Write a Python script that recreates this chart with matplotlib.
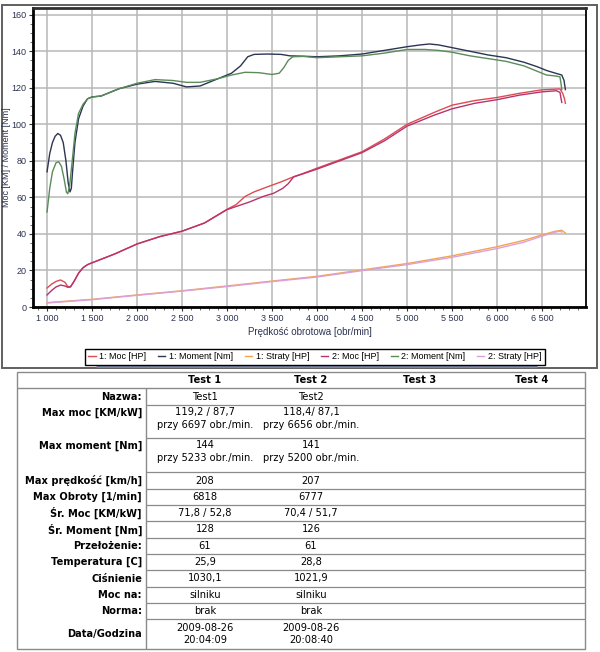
import numpy as np
import matplotlib
matplotlib.use("Agg")
from matplotlib import pyplot as plt
from matplotlib.patches import Rectangle
from matplotlib.ticker import MultipleLocator

# --- chart data (read from the dyno print) ---
rpm_m1 = [1000, 1030, 1060, 1090, 1120, 1150, 1180, 1210, 1235, 1255, 1270, 1285, 1310, 1350, 1400, 1450,
          1500, 1600, 1800, 2000, 2200, 2400, 2550, 2700, 2900, 3050, 3150, 3230, 3300, 3450, 3600, 3700,
          3850, 4000, 4250, 4500, 4750, 5000, 5150, 5250, 5350, 5500, 5700, 5900, 6100, 6300, 6450, 6550,
          6650, 6720, 6745, 6760]
moment1 = [74, 84, 90, 93.5, 95, 94, 90, 80, 68, 63, 65, 75, 90, 103, 110, 114,
           115, 115.5, 119.5, 122, 123.5, 122.5, 120.5, 121, 125, 128, 132, 137, 138.3, 138.5, 138.3, 137.5,
           137.3, 137, 137.5, 138.5, 140.5, 142.5, 143.5, 144, 143.5, 142, 140, 138, 136.5, 134, 131.5, 129.5,
           128, 127, 124, 119]

rpm_m2 = [1000, 1030, 1060, 1100, 1130, 1160, 1190, 1215, 1230, 1250, 1280, 1310, 1350, 1400, 1450, 1500,
          1600, 1800, 2000, 2200, 2400, 2550, 2700, 2900, 3050, 3200, 3350, 3500, 3580, 3630, 3680, 3730,
          3850, 4000, 4250, 4500, 4750, 5000, 5200, 5350, 5500, 5700, 5900, 6100, 6300, 6450, 6550, 6650,
          6700, 6712, 6720]
moment2 = [52, 65, 74, 79, 79.5, 77, 70, 63, 62, 66, 80, 95, 106, 111, 114, 115,
           115.5, 119.5, 122.5, 124.5, 124, 123, 123, 125, 127, 128.5, 128.3, 127.3, 128, 131, 135, 137,
           137.2, 136.5, 137, 137.5, 139, 141, 141, 140.5, 139.5, 137.5, 136, 134.5, 132, 129, 127, 126.5,
           126, 122, 119]

rpm_p1 = [1000, 1050, 1100, 1150, 1200, 1230, 1260, 1300, 1350, 1400, 1450, 1500, 1750, 2000, 2250, 2500,
          2750, 3000, 3100, 3200, 3300, 3450, 3600, 3750, 3850, 4000, 4250, 4500, 4750, 5000, 5300, 5500,
          5750, 6000, 6250, 6500, 6700, 6730, 6750, 6760]
moc1 = [10.4, 12.5, 14, 14.8, 13.5, 11.2, 11, 14, 18.5, 21.5, 23.2, 24.2, 29, 34.5, 38.5, 41.5,
        46, 53.5, 56, 60.5, 63, 65.8, 68.5, 71.5, 73.2, 76, 80.5, 85, 92, 100, 106.5, 110.5,
        113, 114.7, 117, 118.9, 119.4, 117, 114, 111.5]

rpm_p2 = [1000, 1050, 1100, 1150, 1200, 1230, 1260, 1300, 1350, 1400, 1450, 1500, 1750, 2000, 2250, 2500,
          2750, 3000, 3100, 3250, 3400, 3520, 3620, 3680, 3740, 3850, 4000, 4250, 4500, 4750, 5000, 5300,
          5500, 5750, 6000, 6250, 6500, 6660, 6700, 6712, 6720]
moc2 = [6.6, 9, 11, 12, 11.5, 10.8, 11, 14, 18.5, 21.5, 23.2, 24.2, 29, 34.5, 38.5, 41.5,
        46, 53.3, 55, 57.5, 60.5, 62.3, 65, 67.5, 71.2, 73, 75.5, 80, 84.5, 91, 99, 105,
        108.5, 111.5, 113.5, 116, 117.8, 118.4, 117.5, 114, 112]

rpm_s1 = [1000, 1500, 2000, 2500, 3000, 3500, 4000, 4500, 5000, 5500, 6000, 6300, 6500, 6650, 6720, 6760]
straty1 = [2.4, 4.2, 6.6, 8.9, 11.5, 14.2, 16.8, 20.3, 23.8, 28, 33, 36.5, 39.5, 41.5, 42, 40.5]
rpm_s2 = [1000, 1500, 2000, 2500, 3000, 3500, 4000, 4500, 5000, 5500, 6000, 6300, 6500, 6650, 6700, 6720]
straty2 = [2.2, 4, 6.4, 8.7, 11.2, 13.9, 16.4, 19.9, 23.2, 27.2, 32, 35.5, 38.8, 41, 41.5, 41]

x_ticks = [1000, 1500, 2000, 2500, 3000, 3500, 4000, 4500, 5000, 5500, 6000, 6500]
x_tick_labels = ["1 000", "1 500", "2 000", "2 500", "3 000", "3 500", "4 000", "4 500",
                 "5 000", "5 500", "6 000", "6 500"]
legend_labels = ["1: Moc [HP]", "1: Moment [Nm]", "1: Straty [HP]",
                 "2: Moc [HP]", "2: Moment [Nm]", "2: Straty [HP]"]

# --- table data ---
col_heads = ["Test 1", "Test 2", "Test 3", "Test 4"]
row_labels = ["Nazwa:", "Max moc [KM/kW]", "Max moment [Nm]", "Max prędkość [km/h]", "Max Obroty [1/min]",
              "Śr. Moc [KM/kW]", "Śr. Moment [Nm]", "Przełożenie:", "Temperatura [C]", "Ciśnienie",
              "Moc na:", "Norma:", "Data/Godzina"]
test1_vals = ["Test1", "119,2 / 87,7\nprzy 6697 obr./min.", "144\nprzy 5233 obr./min.", "208", "6818",
              "71,8 / 52,8", "128", "61", "25,9", "1030,1", "silniku", "brak", "2009-08-26\n20:04:09"]
test2_vals = ["Test2", "118,4/ 87,1\nprzy 6656 obr./min.", "141\nprzy 5200 obr./min.", "207", "6777",
              "70,4 / 51,7", "126", "61", "28,8", "1021,9", "silniku", "brak", "2009-08-26\n20:08:40"]

W, H = 600, 652
fig = plt.figure(figsize=(W / 100, H / 100), dpi=100)
fig.patch.set_facecolor("white")
chart_font = "Liberation Sans"

# background axes in pixel coords for frames and table
bg = fig.add_axes([0, 0, 1, 1])
bg.set_xlim(0, W)
bg.set_ylim(H, 0)
bg.axis("off")
bg.add_patch(Rectangle((2, 5), 595, 363, fill=False, ec="#606060", lw=1.4))
bg.hlines(366, 96, 537, color="#7d86a8", lw=2.2)

# chart
ax = fig.add_axes([33 / W, 1 - 307 / H, (586 - 33) / W, (307 - 8) / H])
navy = "#2b3350"
ax.plot(rpm_p1, moc1, color="#dc4c50", lw=1.0, label=legend_labels[0])
ax.plot(rpm_m1, moment1, color="#2c3552", lw=1.0, label=legend_labels[1])
ax.plot(rpm_s1, straty1, color="#f2a455", lw=1.0, label=legend_labels[2])
ax.plot(rpm_p2, moc2, color="#b8336e", lw=1.0, label=legend_labels[3])
ax.plot(rpm_m2, moment2, color="#5a8c5a", lw=1.0, label=legend_labels[4])
ax.plot(rpm_s2, straty2, color="#dba0d8", lw=1.0, label=legend_labels[5])

ax.set_xlim(844, 6989)
ax.set_ylim(0, 163.7)
ax.set_xticks(x_ticks)
ax.set_xticklabels(x_tick_labels, family=chart_font)
ax.set_yticks(np.arange(0, 161, 20))
for t in ax.get_yticklabels():
    t.set_family(chart_font)
ax.xaxis.set_minor_locator(MultipleLocator(100))
ax.yaxis.set_minor_locator(MultipleLocator(5))
ax.grid(True, which="major", color="#b8b8b8", lw=1.1)
ax.set_axisbelow(True)
ax.tick_params(which="major", labelsize=6.5, labelcolor=navy, length=3, width=0.8, color="#333", pad=2)
ax.tick_params(axis="y", which="major", pad=1.5)
ax.tick_params(which="minor", length=2, width=0.6, color="#555")
for s in ["left", "bottom"]:
    ax.spines[s].set_linewidth(2.0)
ax.spines["top"].set_linewidth(2.0)
ax.spines["top"].set_color("#303030")
ax.spines["right"].set_linewidth(1.3)
ax.set_xlabel("Prędkość obrotowa [obr/min]", fontsize=7, color=navy, family=chart_font)
ax.xaxis.set_label_coords(0.5, -(327 - 307) / 299)
ax.set_ylabel("Moc [KM] / Moment [Nm]", fontsize=6.5, color=navy, family=chart_font)
ax.yaxis.set_label_coords(-(33 - 11) / 553, 0.5)

fig.legend(loc="center", bbox_to_anchor=(315 / W, 1 - 357 / H), ncol=6,
           prop={"family": chart_font, "size": 6.5},
           frameon=True, fancybox=False, edgecolor="black", framealpha=1,
           handlelength=0.8, handletextpad=0.4, columnspacing=1.3, borderpad=0.35)

# table
tl, tr, tt, tb = 17, 585, 372, 649
sep = 146
bounds = [372, 388, 405, 438, 472, 489, 505, 521, 538, 554, 570, 587, 603, 619, 649]
col_x = [205, 311, 420, 532]
line_col = "#8a8a8a"
bg.add_patch(Rectangle((tl, tt), tr - tl, tb - tt, fill=False, ec=line_col, lw=1.0))
bg.vlines(sep, bounds[1], tb, color=line_col, lw=1.0)
bg.hlines(bounds[1], tl, tr, color=line_col, lw=1.0)
for b in bounds[2:-1]:
    bg.hlines(b, sep, tr, color=line_col, lw=0.9)

fs = 7.1
for cx, h in zip(col_x, col_heads):
    bg.text(cx, (bounds[0] + bounds[1]) / 2, h, ha="center", va="center", fontsize=fs, fontweight="bold")

for i, lab in enumerate(row_labels):
    top, bot = bounds[i + 1], bounds[i + 2]
    two = "\n" in test1_vals[i]
    if two and i < 3:
        ly = top + 8
        bg.text(142, ly, lab, ha="right", va="center", fontsize=fs, fontweight="bold")
        for cx, v in zip(col_x, [test1_vals[i], test2_vals[i]]):
            bg.text(cx, top + 2, v, ha="center", va="top", fontsize=fs, linespacing=1.35)
    else:
        ly = (top + bot) / 2
        bg.text(142, ly, lab, ha="right", va="center", fontsize=fs, fontweight="bold")
        for cx, v in zip(col_x, [test1_vals[i], test2_vals[i]]):
            bg.text(cx, ly, v, ha="center", va="center", fontsize=fs, linespacing=1.35)

fig.savefig("out.png", dpi=100)
